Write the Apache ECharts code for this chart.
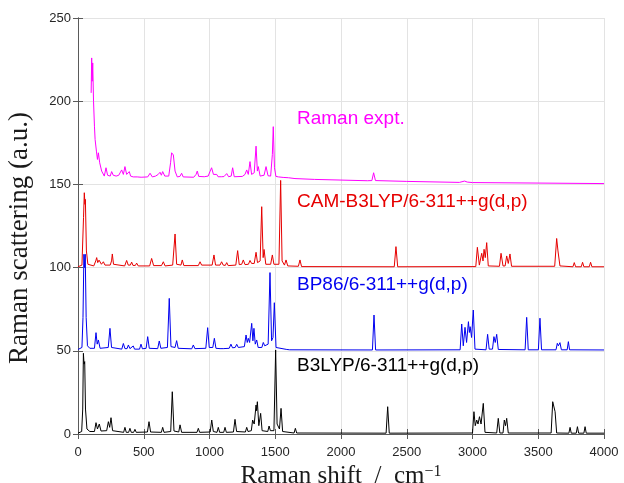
<!DOCTYPE html>
<html>
<head>
<meta charset="utf-8">
<script src="https://cdn.jsdelivr.net/npm/echarts@6/dist/echarts.min.js"></script>
<style>
  html, body { margin: 0; padding: 0; background: #fff; }
  #main { width: 624px; height: 483px; }
</style>
</head>
<body>
<div id="main"></div>
<script>
// Raman shift (cm-1), intensity incl. vertical offset of each trace
var exptPts = [
  [100, 205], [104, 226], [108, 212], [112, 223], [118, 200], [125, 185], [130, 177], [140, 170],
  [148, 165], [155, 169], [165, 163], [180, 158], [193, 157], [200, 155], [213, 160], [225, 155.5],
  [245, 155], [256, 157.7], [268, 155.5], [290, 155], [310, 155.5], [332, 158.7], [345, 156],
  [357, 160.7], [370, 156], [380, 157], [390, 157.7], [400, 155], [420, 154.5], [450, 154.5],
  [480, 154.3], [530, 154.5], [548, 156.7], [565, 154.5], [590, 155], [610, 156], [624, 157.3],
  [634, 155.5], [644, 157.7], [660, 155], [690, 155], [704, 163], [712, 169], [725, 167.7],
  [738, 158], [755, 154.5], [775, 154.8], [788, 156.7], [800, 154.5], [880, 154.3], [898, 156],
  [907, 158], [918, 154.8], [960, 154.6], [990, 155], [1005, 158], [1016, 160], [1030, 156],
  [1045, 155], [1055, 156], [1065, 154.6], [1090, 154.6], [1110, 154.7], [1131, 156.5],
  [1145, 154.6], [1165, 155], [1176, 160], [1188, 154.6], [1250, 154.8], [1270, 156],
  [1283, 158.7], [1295, 156], [1308, 163.7], [1320, 156], [1340, 157], [1354, 173], [1364, 158],
  [1371, 160.7], [1385, 155], [1415, 155.5], [1430, 160.7], [1445, 155.2], [1465, 155],
  [1478, 168], [1485, 184.7], [1494, 160], [1505, 154.8], [1525, 154.5], [1536, 155.2],
  [1560, 154.2], [1600, 154], [1612, 154.4], [1650, 153.5], [1800, 153], [2000, 152.6],
  [2200, 152.2], [2235, 152.3], [2248, 157], [2262, 152.3], [2500, 151.8], [2900, 151.2],
  [2940, 152], [2960, 151.4], [3000, 151.1], [3500, 150.8], [4000, 150.5]
];

var camPts = [
  [0, 100.5], [30, 101.5], [42, 130], [48, 145], [53, 138], [56, 141], [64, 110], [75, 102],
  [120, 101], [135, 104], [142, 106], [150, 103], [160, 104.5], [167, 105], [178, 102],
  [193, 103.5], [205, 101.5], [245, 101.5], [255, 104], [261, 108.2], [270, 102], [355, 101],
  [370, 104.3], [382, 101.5], [398, 101.5], [408, 103.3], [418, 101.3], [436, 101.3],
  [446, 102.7], [458, 101], [545, 101], [560, 105.5], [575, 101.2], [635, 101.2], [649, 103.5],
  [662, 101], [720, 101.5], [738, 120.2], [750, 102], [783, 101.5], [793, 104.6], [805, 101.2],
  [915, 101.2], [928, 103.5], [940, 101.5], [1020, 101.5], [1034, 107.6], [1046, 101.5],
  [1080, 101.5], [1092, 103.5], [1104, 101.5], [1120, 101.3], [1131, 103], [1142, 101.2],
  [1200, 101.5], [1214, 110.2], [1226, 101.8], [1245, 102], [1257, 104.6], [1270, 101.8],
  [1296, 102], [1308, 104.3], [1320, 102.5], [1340, 102.5], [1354, 109.2], [1365, 103],
  [1385, 104], [1397, 136.6], [1408, 106], [1415, 110.9], [1428, 102], [1465, 102],
  [1478, 107.6], [1490, 102], [1528, 102], [1541, 152.4], [1552, 104], [1570, 101.5],
  [1582, 104.6], [1595, 101], [1676, 100.8], [1688, 104.6], [1700, 100.6], [2405, 100.5],
  [2418, 112.6], [2431, 100.5], [3025, 100.6], [3037, 112.2], [3052, 101.5], [3070, 108.6],
  [3080, 104], [3088, 111], [3097, 106], [3108, 115], [3120, 101], [3205, 100.8], [3217, 108.6],
  [3232, 101], [3248, 101], [3260, 107], [3272, 102.5], [3285, 108.2], [3297, 100.8],
  [3625, 100.8], [3640, 117.5], [3650, 110], [3665, 101], [3764, 100.5], [3774, 103],
  [3784, 100.5], [3827, 100.5], [3837, 103.2], [3847, 100.5], [3888, 100.5], [3898, 103.2],
  [3908, 100.5], [4000, 100.5]
];

var bp86Pts = [
  [0, 50.8], [30, 52], [38, 70], [45, 108], [50, 100], [55, 108], [62, 70], [72, 53], [90, 51.5],
  [125, 51.5], [137, 60.9], [146, 54], [155, 56.5], [168, 51.5], [230, 52], [243, 63.5],
  [255, 52], [333, 51], [345, 54.4], [357, 51.3], [373, 51.3], [383, 53.5], [395, 51.3],
  [410, 51.2], [420, 52.9], [430, 51], [468, 51], [479, 54], [490, 51.2], [518, 51.5],
  [530, 58.5], [542, 51.5], [606, 51.3], [618, 55.9], [630, 51.5], [680, 52], [694, 81.5],
  [707, 52.5], [738, 52], [750, 56.1], [762, 51.5], [865, 51.2], [877, 53.5], [889, 51.3],
  [972, 51.5], [986, 63.9], [998, 52], [1025, 52], [1037, 57.5], [1049, 51.5], [1080, 51.3],
  [1092, 52.5], [1104, 51.3], [1150, 51.5], [1163, 54], [1175, 51.8], [1195, 52], [1207, 53.9],
  [1219, 52], [1265, 52.5], [1278, 59.5], [1287, 55], [1295, 57.5], [1305, 55], [1321, 66.5],
  [1330, 56], [1338, 63.5], [1348, 54], [1359, 56.5], [1370, 52], [1398, 52], [1409, 55],
  [1420, 53], [1446, 54], [1460, 97], [1472, 56], [1483, 58], [1493, 78.9], [1506, 52],
  [1588, 50.8], [1599, 51.5], [1610, 50.6], [2239, 50.5], [2251, 71.5], [2263, 50.5],
  [2906, 50.6], [2918, 66.1], [2930, 53], [2943, 64.1], [2955, 55], [2969, 67.5], [2976, 61],
  [2982, 64.5], [2993, 58], [3006, 74.5], [3019, 51], [3103, 50.6], [3115, 59.9], [3127, 51],
  [3152, 51], [3163, 58.5], [3173, 55], [3184, 59.9], [3196, 50.8], [3400, 50.6], [3412, 70.1],
  [3424, 50.6], [3501, 50.6], [3513, 69.6], [3525, 50.6], [3635, 50.6], [3645, 54.5],
  [3653, 53], [3665, 54.9], [3676, 50.6], [3720, 50.6], [3729, 55.5], [3738, 50.6], [4000, 50.5]
];

var b3lypPts = [
  [0, 0.5], [28, 1.5], [36, 15], [41, 48.5], [46, 42], [51, 43.5], [57, 15], [68, 3], [90, 1.5],
  [125, 1.5], [137, 6.8], [148, 3], [162, 6], [175, 1.8], [218, 2], [231, 7.4], [241, 4],
  [251, 9.8], [263, 2], [347, 1], [357, 4], [367, 1], [385, 1], [395, 3.4], [405, 1], [423, 1],
  [433, 2.8], [443, 1], [528, 1.2], [540, 7.4], [552, 1.2], [634, 1], [644, 4], [654, 1],
  [705, 1.5], [717, 25.4], [730, 1.8], [766, 1.2], [776, 5.5], [788, 1], [905, 1], [915, 3.4],
  [925, 1], [1005, 1.2], [1017, 8.4], [1029, 1.5], [1057, 1], [1067, 4], [1077, 1], [1108, 1],
  [1118, 4], [1128, 1], [1182, 1.2], [1194, 8.8], [1206, 1.5], [1273, 1.2], [1283, 4],
  [1293, 1.5], [1318, 2], [1328, 8.4], [1340, 6], [1354, 17.4], [1358, 14], [1364, 19.4],
  [1375, 5], [1389, 12.4], [1400, 2], [1443, 1.5], [1453, 4.8], [1463, 2], [1490, 2],
  [1503, 50.5], [1514, 6], [1532, 3], [1544, 15.4], [1556, 1.5], [1643, 0.6], [1653, 3.4],
  [1663, 0.6], [2343, 0.5], [2355, 16.4], [2367, 0.5], [3000, 0.6], [3011, 13.4], [3021, 5],
  [3032, 8.4], [3042, 6], [3053, 10.4], [3065, 6], [3082, 18.4], [3095, 1], [3184, 0.6],
  [3196, 9.4], [3208, 0.6], [3232, 0.6], [3242, 8.4], [3251, 5], [3260, 9.4], [3272, 0.6],
  [3598, 0.6], [3610, 19.4], [3628, 13.4], [3640, 0.6], [3733, 0.5], [3742, 4], [3751, 0.5],
  [3789, 0.5], [3798, 4.4], [3807, 0.5], [3847, 0.5], [3856, 4.4], [3865, 0.5], [4000, 0.5]
];

var seriesNames = ['Raman expt.', 'CAM-B3LYP/6-311++g(d,p)', 'BP86/6-311++g(d,p)', 'B3LYP/6-311++g(d,p)'];
var seriesColors = ['#ff00ff', '#e60000', '#0000f0', '#000000'];
var seriesData = [exptPts, camPts, bp86Pts, b3lypPts];
var labelTops = [109, 192, 275, 356];

var axisCol = '#5a5a5a';
var serif = 'Liberation Serif, Times New Roman, serif';
var tickFont = { color: '#262626', fontSize: 13, fontFamily: 'Liberation Sans, Arial, sans-serif' };

function xAx(pos, show) {
  return {
    type: 'value', position: pos, min: 0, max: 4000, interval: 500,
    axisLine: { show: true, lineStyle: { color: axisCol } },
    axisTick: { show: true, inside: true, length: 5, lineStyle: { color: axisCol } },
    axisLabel: Object.assign({ show: show, margin: 12, formatter: function (v) { return String(v); } }, tickFont),
    splitLine: { show: show, lineStyle: { color: '#e3e3e3' } }
  };
}
function yAx(pos, show) {
  return {
    type: 'value', position: pos, min: 0, max: 250, interval: 50,
    axisLine: { show: true, lineStyle: { color: axisCol } },
    axisTick: { show: true, inside: true, length: 5, lineStyle: { color: axisCol } },
    axisLabel: Object.assign({ show: show, margin: 7 }, tickFont),
    splitLine: { show: show, lineStyle: { color: '#e3e3e3' } }
  };
}

var xMain = xAx('bottom', true);
xMain.name = 'Raman shift  /  cm{sup|\u22121}';
xMain.nameLocation = 'middle';
xMain.nameGap = 16;
xMain.nameTextStyle = {
  fontSize: 25, color: '#1a1a1a', fontFamily: serif,
  rich: { sup: { fontSize: 16, verticalAlign: 'top', padding: [0, 0, 10, 0], fontFamily: serif, color: '#1a1a1a' } }
};

var chart = echarts.init(document.getElementById('main'), null, { renderer: 'canvas' });

var labels = seriesNames.map(function (n, i) {
  return {
    type: 'text', left: 297, top: labelTops[i], z: 100,
    style: { text: n, fill: seriesColors[i], fontSize: 19, fontFamily: 'Liberation Sans, Arial, sans-serif' }
  };
});
labels.push({
  type: 'text', x: 20, y: 238, rotation: Math.PI / 2, z: 100,
  style: { text: 'Raman scattering (a.u.)', fill: '#1a1a1a', fontSize: 27, fontFamily: serif,
    align: 'center', verticalAlign: 'middle' }
});

chart.setOption({
  animation: false,
  backgroundColor: '#ffffff',
  grid: { left: 78, right: 20, top: 18, bottom: 49, outerBoundsMode: 'none' },
  xAxis: [xMain, xAx('top', false)],
  yAxis: [yAx('left', true), yAx('right', false)],
  graphic: labels,
  series: seriesData.map(function (d, i) {
    return {
      name: seriesNames[i], type: 'line', data: d, showSymbol: false,
      lineStyle: { color: seriesColors[i], width: 1 }, itemStyle: { color: seriesColors[i] }
    };
  })
});
</script>
</body>
</html>
